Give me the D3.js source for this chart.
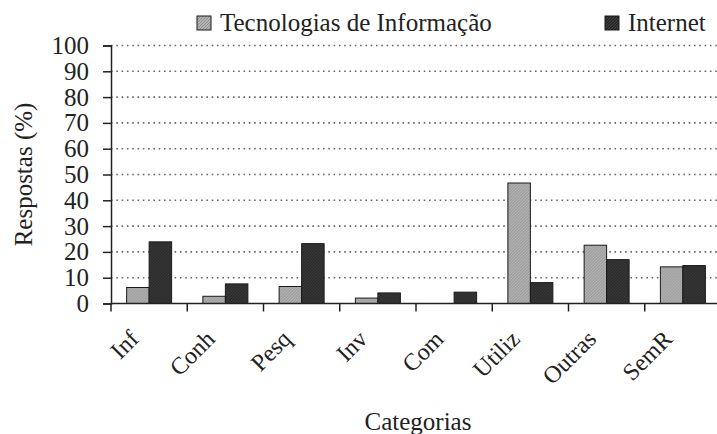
<!DOCTYPE html>
<html>
<head>
<meta charset="utf-8">
<script src="https://cdn.jsdelivr.net/npm/d3@7"></script>
<style>
  body { margin: 0; background: #fff; }
  text { font-family: "Liberation Serif", "Times New Roman", serif; fill: #222; }
</style>
</head>
<body>
<div id="chart-area"></div>
<script>
// data
var categories = ["Inf", "Conh", "Pesq", "Inv", "Com", "Utiliz", "Outras", "SemR"];
var tecInfo = [6.2, 2.8, 6.6, 2.1, 0, 46.7, 22.6, 14.2];
var internet = [23.9, 7.6, 23.2, 4.1, 4.4, 8.1, 17.0, 14.7];
var seriesNames = ["Tecnologias de Informação", "Internet"];
var yTicks = [0, 10, 20, 30, 40, 50, 60, 70, 80, 90, 100];

var W = 717, H = 434;
var margins = { left: 111, top: 45.5, right: -4, bottom: 130.5 };
var width = W - margins.left - margins.right;
var height = H - margins.top - margins.bottom;

var colors = ["#b4b4b4", "#272727"];

var svg = d3.select("#chart-area")
    .append("svg")
    .attr("width", W)
    .attr("height", H);

// stipple patterns to mimic the printed fills
var defs = svg.append("defs");
function stipple(id, base, dot) {
    var p = defs.append("pattern")
        .attr("id", id)
        .attr("width", 3).attr("height", 3)
        .attr("patternUnits", "userSpaceOnUse");
    p.append("rect").attr("width", 3).attr("height", 3).attr("fill", base);
    p.append("rect").attr("x", 0).attr("y", 0).attr("width", 1).attr("height", 1).attr("fill", dot);
    p.append("rect").attr("x", 2).attr("y", 1).attr("width", 1).attr("height", 1).attr("fill", dot);
    p.append("rect").attr("x", 1).attr("y", 2).attr("width", 1).attr("height", 1).attr("fill", dot);
}
stipple("fillTec", colors[0], "#8e8e8e");
stipple("fillNet", colors[1], "#444");

var g = svg.append("g")
    .attr("transform", "translate(" + margins.left + "," + margins.top + ")");

var x = d3.scaleBand()
    .domain(categories)
    .range([0, width])
    .paddingInner(0.41)
    .paddingOuter(0.205);

var x1 = d3.scaleBand()
    .domain([0, 1])
    .range([0, x.bandwidth()]);

var y = d3.scaleLinear()
    .domain([0, 100])
    .range([height, 0]);

// dotted gridlines
g.selectAll(".grid")
    .data(yTicks.filter(function(d) { return d > 0; }))
    .enter()
    .append("line")
    .attr("class", "grid")
    .attr("x1", 0)
    .attr("x2", width)
    .attr("y1", function(d) { return y(d); })
    .attr("y2", function(d) { return y(d); })
    .attr("stroke", "#666")
    .attr("stroke-width", 1.6)
    .attr("stroke-dasharray", "1.6,3.7");

// bars
var rows = categories.map(function(c, i) {
    return { cat: c, values: [tecInfo[i], internet[i]] };
});

var groups = g.selectAll(".grp")
    .data(rows)
    .enter()
    .append("g")
    .attr("class", "grp")
    .attr("transform", function(d) { return "translate(" + x(d.cat) + ",0)"; });

groups.selectAll("rect")
    .data(function(d) { return d.values.map(function(v, k) { return { k: k, v: v }; }); })
    .enter()
    .filter(function(d) { return d.v > 0; })
    .append("rect")
    .attr("x", function(d) { return x1(d.k); })
    .attr("width", x1.bandwidth())
    .attr("y", function(d) { return y(d.v); })
    .attr("height", function(d) { return height - y(d.v); })
    .attr("fill", function(d) { return d.k === 0 ? "url(#fillTec)" : "url(#fillNet)"; })
    .attr("stroke", "#1a1a1a")
    .attr("stroke-width", 1);

// y axis
var yAxis = g.append("g")
    .call(d3.axisLeft(y).tickValues(yTicks).tickSize(8).tickPadding(14));
yAxis.select(".domain").attr("stroke", "#222").attr("stroke-width", 1.5);
yAxis.selectAll(".tick line").attr("stroke", "#222").attr("stroke-width", 1.5);
yAxis.selectAll("text")
    .style("font-family", "Liberation Serif")
    .style("font-size", "25px")
    .attr("fill", "#222");

// x axis: ticks at the band boundaries
var bounds = d3.range(categories.length + 1).map(function(i) { return i * x.step(); });
g.append("line")
    .attr("x1", 0).attr("x2", width)
    .attr("y1", height).attr("y2", height)
    .attr("stroke", "#222").attr("stroke-width", 1.5);
g.selectAll(".xtick")
    .data(bounds)
    .enter()
    .append("line")
    .attr("x1", function(d) { return d; })
    .attr("x2", function(d) { return d; })
    .attr("y1", height)
    .attr("y2", height + 8)
    .attr("stroke", "#222").attr("stroke-width", 1.5);

g.selectAll(".xlabel")
    .data(categories)
    .enter()
    .append("text")
    .attr("class", "xlabel")
    .attr("transform", function(d) {
        return "translate(" + (x(d) + x.bandwidth() / 2 - 15) + "," + (height + 31) + ") rotate(-45)";
    })
    .attr("text-anchor", "end")
    .attr("dy", "0.35em")
    .style("font-size", "24px")
    .text(function(d) { return d; });

// axis titles
svg.append("text")
    .attr("transform", "translate(32," + (margins.top + height / 2) + ") rotate(-90)")
    .attr("text-anchor", "middle")
    .style("font-size", "25px")
    .text("Respostas (%)");

svg.append("text")
    .attr("x", 418)
    .attr("y", 430)
    .attr("text-anchor", "middle")
    .style("font-size", "25px")
    .text("Categorias");

// legend
var legendPos = [197, 605];
var legend = svg.selectAll(".legend")
    .data(seriesNames)
    .enter()
    .append("g")
    .attr("class", "legend")
    .attr("transform", function(d, i) { return "translate(" + legendPos[i] + ",16)"; });

legend.append("rect")
    .attr("width", 14)
    .attr("height", 14)
    .attr("fill", function(d, i) { return i === 0 ? "url(#fillTec)" : "url(#fillNet)"; })
    .attr("stroke", "#1a1a1a");

legend.append("text")
    .attr("x", 23)
    .attr("y", 15)
    .style("font-size", "25px")
    .text(function(d) { return d; });
</script>
</body>
</html>
